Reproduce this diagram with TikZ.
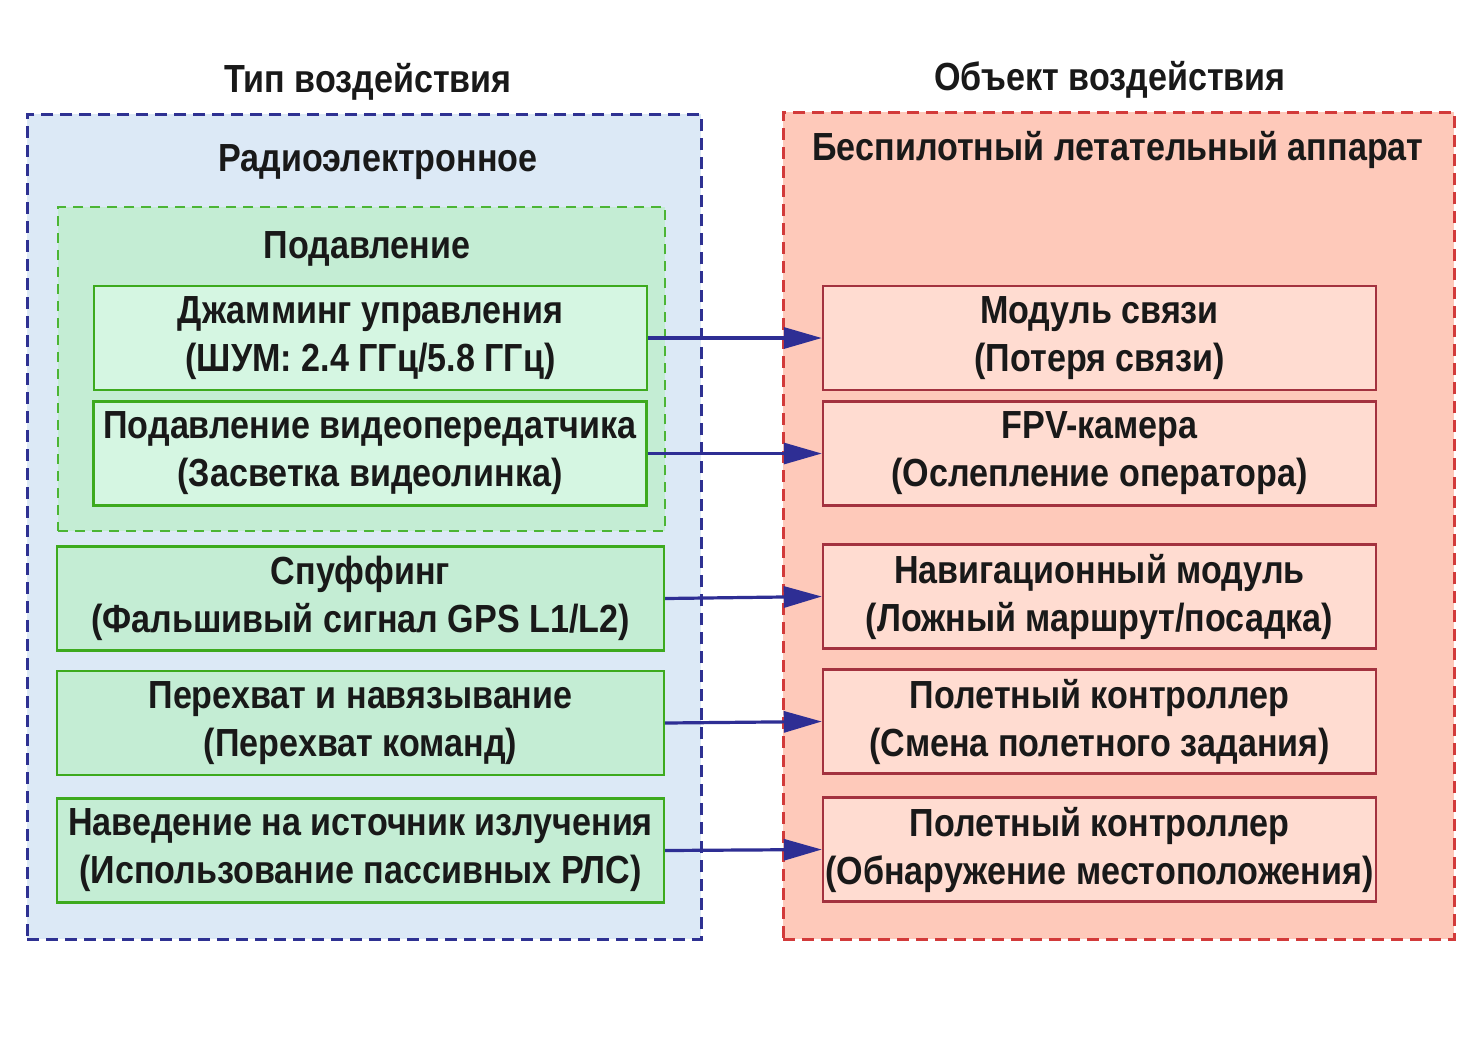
\documentclass[tikz,border=0pt]{standalone}
\usepackage{fontspec}
\setmainfont{Liberation Sans}[FakeStretch=0.87]
\usetikzlibrary{arrows.meta}
\definecolor{bluefill}{HTML}{DCE9F6}
\definecolor{blueline}{HTML}{2E3192}
\definecolor{greenfill}{HTML}{C4EDD4}
\definecolor{greenbox}{HTML}{D5F6E2}
\definecolor{greenline}{HTML}{3DAA1E}
\definecolor{greendash}{HTML}{4CB535}
\definecolor{redfill}{HTML}{FEC9BA}
\definecolor{redbox}{HTML}{FFDCD1}
\definecolor{redline}{HTML}{A3323F}
\definecolor{reddash}{HTML}{D23A3A}
\definecolor{arrowblue}{HTML}{2E2E94}
\tikzset{
  lbl/.style={font=\fontsize{19.6}{24}\selectfont\bfseries, text=black!90, align=center, inner sep=0pt},
  container/.style={line width=1.4pt, dash pattern=on 6pt off 3.5pt, inner sep=0pt, anchor=north west},
  gbox/.style={lbl, draw=greenline, fill=greenbox, line width=1.2pt, minimum width=276.5pt, minimum height=52pt},
  gwide/.style={gbox, fill=greenfill, minimum width=303.5pt},
  rbox/.style={lbl, draw=redline, fill=redbox, line width=1.2pt, minimum width=276.5pt, minimum height=52pt},
  conn/.style={draw=arrowblue, line width=1.6pt, -{Triangle[length=19pt,width=10.5pt]}}
}
\begin{document}
\begin{tikzpicture}[x=0.5pt,y=-0.5pt]
\useasboundingbox[fill=white] (0,0) rectangle (1472,1041);
% containers
\node[container, draw=blueline, fill=bluefill, minimum width=337pt, minimum height=412.5pt] (leftc) at (26,113) {};
\node[container, draw=reddash, fill=redfill, minimum width=335.5pt, minimum height=413.5pt] (rightc) at (782,111) {};
\node[container, draw=greendash, fill=greenfill, line width=1.2pt, dash pattern=on 5pt off 3.5pt, minimum width=303.5pt, minimum height=162pt] (supp) at (57,206) {};
% titles
\node[lbl] (t1) at (368,82) {Тип воздействия};
\node[lbl] (t2) at (1110,80) {Объект воздействия};
\node[lbl] (radio) at (378,162) {Радиоэлектронное};
\node[lbl] (uav) at (1118,150) {Беспилотный летательный аппарат};
\node[lbl] (podav) at (367,249) {Подавление};
% left boxes
\node[gbox] (l1) at (370.5,338) {Джамминг управления\\(ШУМ: 2.4 ГГц/5.8 ГГц)};
\node[gbox] (l2) at (370,453.5) {Подавление видеопередатчика\\(Засветка видеолинка)};
\node[gwide] (l3) at (360.5,598.5) {Спуффинг\\(Фальшивый сигнал GPS L1/L2)};
\node[gwide] (l4) at (360.5,723) {Перехват и навязывание\\(Перехват команд)};
\node[gwide] (l5) at (360.5,850.5) {Наведение на источник излучения\\(Использование пассивных РЛС)};
% right boxes
\node[rbox] (r1) at (1099.5,338) {Модуль связи\\(Потеря связи)};
\node[rbox] (r2) at (1099.5,453.5) {FPV-камера\\(Ослепление оператора)};
\node[rbox] (r3) at (1099.5,596.5) {Навигационный модуль\\(Ложный маршрут/посадка)};
\node[rbox] (r4) at (1099.5,721.5) {Полетный контроллер\\(Смена полетного задания)};
\node[rbox] (r5) at (1099.5,849.5) {Полетный контроллер\\(Обнаружение местоположения)};
% connectors
\foreach \i in {1,...,5}{
  \draw[conn] (l\i.east) -- (r\i.west);
}
\end{tikzpicture}
\end{document}
